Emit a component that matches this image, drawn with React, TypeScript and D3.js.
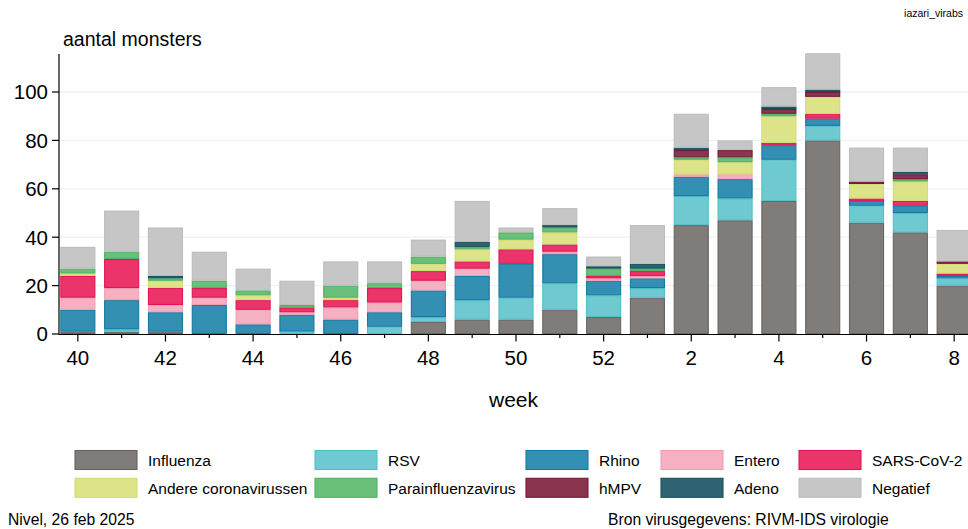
import * as d3 from 'd3';

const weeks = ['40', '41', '42', '43', '44', '45', '46', '47', '48', '49', '50', '51', '52', '1', '2', '3', '4', '5', '6', '7', '8'];
const labelledWeeks = ['40', '42', '44', '46', '48', '50', '52', '2', '4', '6', '8'];

const influenza = [1, 1, 1, 0, 0, 0, 0, 0, 5, 6, 6, 10, 7, 15, 45, 47, 55, 80, 46, 42, 20];
const rsv = [0, 1, 0, 0, 0, 1, 0, 3, 2, 8, 9, 11, 9, 4, 12, 9, 17, 6, 7, 8, 3];
const rhino = [9, 12, 8, 12, 4, 7, 6, 6, 11, 10, 14, 12, 6, 4, 8, 8, 6, 3, 2, 3, 1];
const entero = [5, 5, 3, 3, 6, 1, 5, 4, 4, 3, 0, 1, 1, 1, 1, 2, 0, 0, 0, 0, 0];
const sarsCov2 = [9, 12, 7, 4, 4, 2, 3, 6, 4, 3, 6, 3, 1, 2, 0, 0, 1, 2, 1, 2, 1];
const andereCorona = [1, 0, 3, 0, 2, 0, 1, 0, 3, 5, 4, 5, 0, 0, 6, 5, 11, 7, 6, 8, 4];
const parainfluenza = [2, 3, 1, 3, 2, 1, 5, 2, 3, 1, 3, 2, 3, 1, 1, 2, 1, 0, 0, 1, 0];
const hmpv = [0, 0, 0, 0, 0, 0, 0, 0, 0, 0, 0, 0, 0, 0, 3, 3, 2, 2, 1, 2, 1];
const adeno = [0, 0, 1, 0, 0, 0, 0, 0, 0, 2, 0, 1, 1, 2, 1, 0, 1, 1, 0, 1, 0];
const negatief = [9, 17, 20, 12, 9, 10, 10, 9, 7, 17, 2, 7, 4, 16, 14, 4, 8, 15, 14, 10, 13];

const yTicks = [0, 20, 40, 60, 80, 100];

const series = [
  { key: 'Influenza', values: influenza, fill: '#7f7c79', stroke: '#686562' },
  { key: 'RSV', values: rsv, fill: '#6fc9d1', stroke: '#52bfc9' },
  { key: 'Rhino', values: rhino, fill: '#3390b3', stroke: '#1679a5' },
  { key: 'Entero', values: entero, fill: '#f5b0c1', stroke: '#f29fb4' },
  { key: 'SARS-CoV-2', values: sarsCov2, fill: '#eb3469', stroke: '#e2145a' },
  { key: 'Andere coronavirussen', values: andereCorona, fill: '#dce388', stroke: '#d3dd72' },
  { key: 'Parainfluenzavirus', values: parainfluenza, fill: '#6abf7a', stroke: '#4fb264' },
  { key: 'hMPV', values: hmpv, fill: '#8b344d', stroke: '#781838' },
  { key: 'Adeno', values: adeno, fill: '#306472', stroke: '#16505f' },
  { key: 'Negatief', values: negatief, fill: '#c6c6c6', stroke: '#bdbdbd' },
];

const W = 968;
const H = 529;
const left = 59;
const bottom = 334;
const axisTop = 54;
const font = '"Liberation Sans", Arial, sans-serif';

export default function App() {
  const rows = weeks.map((w, i) => {
    const r: Record<string, any> = { week: w };
    series.forEach((s) => (r[s.key] = s.values[i]));
    return r;
  });
  const stacked = d3.stack<any>().keys(series.map((s) => s.key))(rows);

  const x = d3.scaleBand().domain(weeks).range([left, 973]).paddingInner(0.2).paddingOuter(0.03);
  const y = d3.scaleLinear().domain([0, 100]).range([bottom, 92]);

  const legendCols = [75, 315, 526, 661, 799];
  const legendRows = [450.5, 478.3];

  return (
    <svg width={W} height={H} style={{ position: 'absolute', left: 0, top: 0, fontFamily: font }}>
      <rect width={W} height={H} fill="#ffffff" />
      <text x={963} y={17} fontSize={10.5} textAnchor="end" fill="#000">iazari_virabs</text>
      <text x={63} y={46} fontSize={19.5} fill="#000">aantal monsters</text>

      {yTicks.filter((t) => t > 0).map((t) => (
        <line key={'g' + t} x1={left} x2={W} y1={y(t)} y2={y(t)} stroke="#edf2f3" strokeWidth={1.3} />
      ))}

      {stacked.map((layer, li) => (
        <g key={layer.key} fill={series[li].fill} stroke={series[li].stroke} strokeWidth={1.1}>
          {layer.map((d, i) =>
            d[1] - d[0] > 0 ? (
              <rect
                key={i}
                x={x(weeks[i])! + 0.5}
                y={y(d[1]) + 0.5}
                width={x.bandwidth() - 1}
                height={Math.max(0, y(d[0]) - y(d[1]) - 1)}
              />
            ) : null
          )}
        </g>
      ))}

      <line x1={left} x2={left} y1={axisTop} y2={bottom + 0.5} stroke="#000" strokeWidth={1.2} />
      <line x1={left} x2={W} y1={bottom + 0.5} y2={bottom + 0.5} stroke="#000" strokeWidth={1.2} />

      {yTicks.map((t) => (
        <g key={'y' + t}>
          <line x1={left - 7} x2={left} y1={y(t)} y2={y(t)} stroke="#000" strokeWidth={1.2} />
          <text x={left - 11} y={y(t)} dy="0.36em" textAnchor="end" fontSize={20.5} fill="#000">{t}</text>
        </g>
      ))}

      {weeks.map((w) => {
        const cx = x(w)! + x.bandwidth() / 2;
        const major = labelledWeeks.includes(w);
        return (
          <g key={'x' + w}>
            <line x1={cx} x2={cx} y1={bottom + 1} y2={bottom + (major ? 7.5 : 4)} stroke="#000" strokeWidth={1.2} />
            {major && (
              <text x={cx} y={365} textAnchor="middle" fontSize={20.5} fill="#000">{w}</text>
            )}
          </g>
        );
      })}

      <text x={(left + W) / 2} y={407} textAnchor="middle" fontSize={21} fill="#000">week</text>

      {series.map((s, i) => {
        const lx = legendCols[i % 5];
        const ly = legendRows[Math.floor(i / 5)];
        return (
          <g key={'l' + s.key}>
            <rect x={lx} y={ly} width={62} height={19} fill={s.fill} stroke={s.stroke} strokeWidth={1.1} />
            <text x={lx + 73} y={ly + 9.8} dy="0.36em" fontSize={15.5} fill="#000">{s.key}</text>
          </g>
        );
      })}

      <text x={8} y={525} fontSize={15.7} fill="#000">Nivel, 26 feb 2025</text>
      <text x={608} y={525} fontSize={15.7} fill="#000">Bron virusgegevens: RIVM-IDS virologie</text>
    </svg>
  );
}
